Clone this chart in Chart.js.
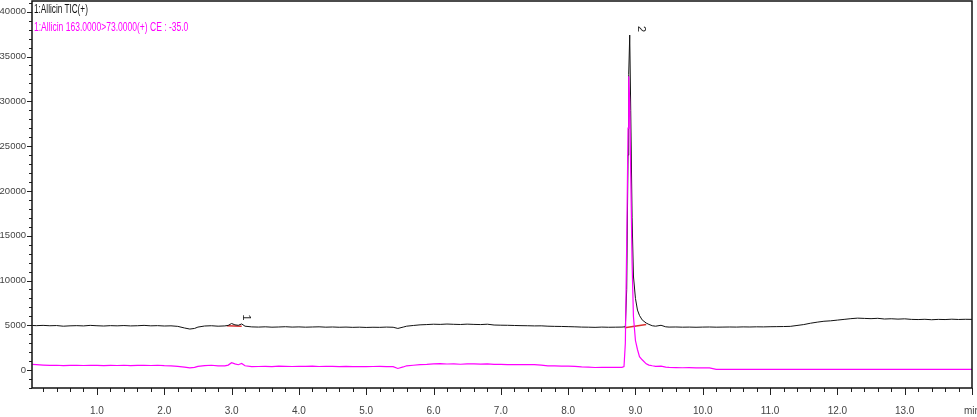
<!DOCTYPE html>
<html>
<head>
<meta charset="utf-8">
<script src="https://cdn.jsdelivr.net/npm/chart.js@4.4.1/dist/chart.umd.min.js"></script>
<style>
  body { margin: 0; background: #fff; }
  #wrap { position: relative; width: 977px; height: 417px; }
  .trace-label { position: absolute; left: 34px; font-family: 'Liberation Sans', Arial, sans-serif; font-size: 12px; line-height: 14px; white-space: nowrap; transform-origin: left top; }
</style>
</head>
<body>
<div id="wrap">
  <canvas id="chChrom"></canvas>
  <div class="trace-label" id="lblTic" data-w="54" style="top:2px;color:#111;">1:Allicin TIC(+)</div>
  <div class="trace-label" id="lblMrm" data-w="154" style="top:20px;color:#ff00ff;">1:Allicin 163.0000&gt;73.0000(+) CE : -35.0</div>
</div>
<script>
/* Allicin chromatogram, TIC and MRM */

// retention time (min)
var timeMin = [0.04, 0.1, 0.2, 0.3, 0.4, 0.5, 0.6, 0.7, 0.8, 0.9,
  1.0, 1.1, 1.2, 1.3, 1.4, 1.5, 1.6, 1.7, 1.8, 1.9,
  2.0, 2.1, 2.2, 2.3, 2.38, 2.45, 2.5, 2.6, 2.7, 2.8, 2.9, 2.95,
  3.0, 3.05, 3.1, 3.15, 3.2, 3.3, 3.4, 3.5, 3.6, 3.7, 3.8, 3.9,
  4.0, 4.1, 4.2, 4.3, 4.4, 4.5, 4.6, 4.7, 4.8, 4.9,
  5.0, 5.1, 5.2, 5.3, 5.4, 5.47, 5.55, 5.6, 5.7, 5.8, 5.9,
  6.0, 6.1, 6.2, 6.3, 6.4, 6.5, 6.6, 6.7, 6.8, 6.9,
  7.0, 7.1, 7.2, 7.3, 7.4, 7.5, 7.6, 7.7, 7.8, 7.9,
  8.0, 8.1, 8.2, 8.3, 8.4, 8.5, 8.6, 8.7, 8.8, 8.83, 8.85, 8.87, 8.89, 8.90, 8.915, 8.93, 8.95, 8.97,
  9.0, 9.03, 9.06, 9.1, 9.16, 9.2, 9.25, 9.3, 9.38, 9.45, 9.5, 9.6, 9.7, 9.8, 9.9,
  10.0, 10.1, 10.2, 10.3, 10.4, 10.5, 10.6, 10.7, 10.8, 10.9,
  11.0, 11.1, 11.2, 11.3, 11.4, 11.5, 11.6, 11.7, 11.8, 11.9,
  12.0, 12.1, 12.2, 12.3, 12.4, 12.5, 12.6, 12.7, 12.8, 12.9,
  13.0, 13.1, 13.2, 13.3, 13.4, 13.5, 13.6, 13.7, 13.8, 13.9, 14.0];

// 1:Allicin TIC(+)
var ticSignal = [4980, 4960, 4990, 4950, 4970, 4900, 4940, 4960, 4930, 4990,
  4950, 4920, 4960, 4940, 4970, 4930, 4950, 4990, 4940, 4960,
  4920, 4940, 4880, 4700, 4580, 4650, 4800, 4920, 4950, 4900, 4930, 4990,
  5200, 5050, 5000, 5150, 4900, 4820, 4800, 4830, 4790, 4810, 4840, 4800,
  4820, 4790, 4810, 4830, 4790, 4810, 4780, 4800, 4770, 4790,
  4760, 4780, 4770, 4800, 4780, 4650, 4800, 4900, 4980, 5050, 5080,
  5120, 5100, 5140, 5110, 5090, 5130, 5100, 5080, 5120, 5030,
  5010, 5000, 4980, 4960, 4950, 4930, 4940, 4900, 4880, 4870,
  4850, 4830, 4800, 4790, 4770, 4800, 4780, 4790, 4800, 4820, 4850, 9000, 24000, 33000, 37400, 29000, 17000, 10500,
  8000, 6700, 6100, 5600, 5250, 5100, 4950, 4900, 5000, 4830, 4800, 4810, 4790, 4800, 4780,
  4800, 4810, 4790, 4800, 4810, 4800, 4820, 4810, 4830, 4820,
  4840, 4850, 4860, 4880, 4980, 5080, 5230, 5350, 5450, 5500,
  5580, 5660, 5740, 5800, 5770, 5740, 5780, 5700, 5730, 5690,
  5720, 5660, 5640, 5670, 5620, 5660, 5640, 5680, 5650, 5670, 5660];

// 1:Allicin 163.0000>73.0000(+) CE : -35.0
var mrmSignal = [630, 600, 560, 520, 540, 500, 520, 530, 510, 540,
  520, 500, 530, 510, 540, 500, 520, 530, 510, 540,
  490, 460, 420, 330, 240, 300, 420, 500, 540, 480, 480, 560,
  820, 700, 600, 740, 480, 380, 400, 420, 390, 450, 420, 400,
  430, 410, 440, 400, 420, 410, 380, 420, 390, 400,
  380, 400, 410, 390, 380, 180, 350, 480, 540, 600, 640,
  700, 720, 680, 700, 650, 690, 700, 660, 690, 640,
  630, 620, 610, 620, 600, 610, 550, 480, 470, 450,
  440, 420, 360, 320, 290, 300, 310, 300, 310, 400, 3000, 14000, 27000, 32800, 30000, 22000, 12000, 6000,
  3300, 2300, 1500, 1150, 700, 560, 480, 420, 440, 330, 300, 280, 260, 270, 250,
  260, 250, 90, 80, 80, 80, 80, 80, 80, 80,
  80, 80, 80, 80, 80, 80, 80, 80, 80, 80,
  80, 80, 80, 80, 80, 80, 80, 80, 80, 80,
  80, 80, 80, 80, 80, 80, 80, 80, 80, 80, 80];

// integration baselines
var peak1BaseTime = [2.93, 3.15];
var peak1BaseValue = [4950, 4900];
var peak2BaseTime = [8.84, 9.16];
var peak2BaseValue = [4730, 5100];

// peak numbers
var peakNames = ['1', '2'];
var peakTime = [3.05, 8.915];
var peakValue = [5200, 37400];

// tick labels
var xTickValues = [1, 2, 3, 4, 5, 6, 7, 8, 9, 10, 11, 12, 13, 14];
var yTickValues = [0, 5000, 10000, 15000, 20000, 25000, 30000, 35000, 40000];

function toPoints(xs, ys) {
  return xs.map(function (x, i) { return { x: x, y: ys[i] }; });
}

// squeeze the trace labels to the narrow look of the original
document.querySelectorAll('.trace-label').forEach(function (el) {
  el.style.transform = 'scaleX(' + (Number(el.dataset.w) / el.offsetWidth) + ')';
});

var fontFam = "'Liberation Sans', Arial, sans-serif";

// minor ticks, box frame, peak numbers
var chromPlugin = {
  id: 'chrom',
  afterDraw: function (chart) {
    var ctx = chart.ctx, a = chart.chartArea;
    var xs = chart.scales.x, ys = chart.scales.y;
    ctx.save();
    ctx.strokeStyle = '#222';
    ctx.lineWidth = 1;
    ctx.beginPath();
    for (var t = 0.2; t <= 14.001; t += 0.2) {
      var px = Math.round(xs.getPixelForValue(t)) + 0.5;
      var major = Math.abs(t - Math.round(t)) < 0.01;
      ctx.moveTo(px, a.bottom);
      ctx.lineTo(px, a.bottom + (major ? 7 : 4));
    }
    for (var v = -2000; v <= 41000; v += 1000) {
      var py = Math.round(ys.getPixelForValue(v)) + 0.5;
      ctx.moveTo(a.left, py);
      ctx.lineTo(a.left - (v % 5000 === 0 ? 5 : 3), py);
    }
    ctx.stroke();

    ctx.lineWidth = 1.5;
    ctx.strokeStyle = '#111';
    ctx.strokeRect(a.left, a.top, a.right - a.left, a.bottom - a.top);

    ctx.fillStyle = '#222';
    ctx.font = '11px ' + fontFam;
    ctx.textAlign = 'center';
    ctx.textBaseline = 'middle';
    for (var i = 0; i < peakNames.length; i++) {
      var lx = xs.getPixelForValue(peakTime[i]) + 11;
      var ly = ys.getPixelForValue(peakValue[i]) - 6;
      ctx.save();
      ctx.translate(lx, ly);
      ctx.rotate(Math.PI / 2);
      ctx.fillText(peakNames[i], 0, 0);
      ctx.restore();
    }
    ctx.restore();
  }
};

var chChrom = document.getElementById('chChrom');
if (chChrom) {
  new Chart(chChrom, {
    type: 'scatter',
    data: {
      datasets: [
        { data: toPoints(timeMin, mrmSignal), borderColor: '#ff00ff', borderWidth: 1.2, showLine: true, pointRadius: 0 },
        { data: toPoints(timeMin, ticSignal), borderColor: '#111111', borderWidth: 1, showLine: true, pointRadius: 0 },
        { data: toPoints(peak1BaseTime, peak1BaseValue), borderColor: '#d83030', borderWidth: 1.5, showLine: true, pointRadius: 0 },
        { data: toPoints(peak2BaseTime, peak2BaseValue), borderColor: '#d83030', borderWidth: 1.5, showLine: true, pointRadius: 0 }
      ]
    },
    options: {
      responsive: true,
      maintainAspectRatio: false,
      animation: false,
      layout: { padding: { left: 0, right: 5, top: 1, bottom: 0 } },
      plugins: { legend: { display: false }, tooltip: { enabled: false } },
      elements: { line: { tension: 0 } },
      scales: {
        x: {
          type: 'linear', min: 0.035, max: 14.0,
          grid: { display: false, drawTicks: false },
          border: { display: false },
          afterBuildTicks: function (s) { s.ticks = xTickValues.map(function (v) { return { value: v }; }); },
          afterFit: function (s) { s.height = 29; s.paddingLeft = 0; s.paddingRight = 0; },
          ticks: {
            autoSkip: false, maxRotation: 0, padding: 17, color: '#444', font: { family: fontFam, size: 10 },
            callback: function (v) { return v === 14 ? 'min' : v.toFixed(1); }
          }
        },
        y: {
          type: 'linear', min: -2000, max: 41200,
          grid: { display: false, drawTicks: false },
          border: { display: false },
          afterBuildTicks: function (s) { s.ticks = yTickValues.map(function (v) { return { value: v }; }); },
          afterFit: function (s) { s.width = 32; s.paddingTop = 0; s.paddingBottom = 0; },
          ticks: { padding: 6, color: '#444', font: { family: fontFam, size: 9.5 }, callback: function (v) { return String(v); } }
        }
      }
    },
    plugins: [chromPlugin]
  });
}
</script>
</body>
</html>
